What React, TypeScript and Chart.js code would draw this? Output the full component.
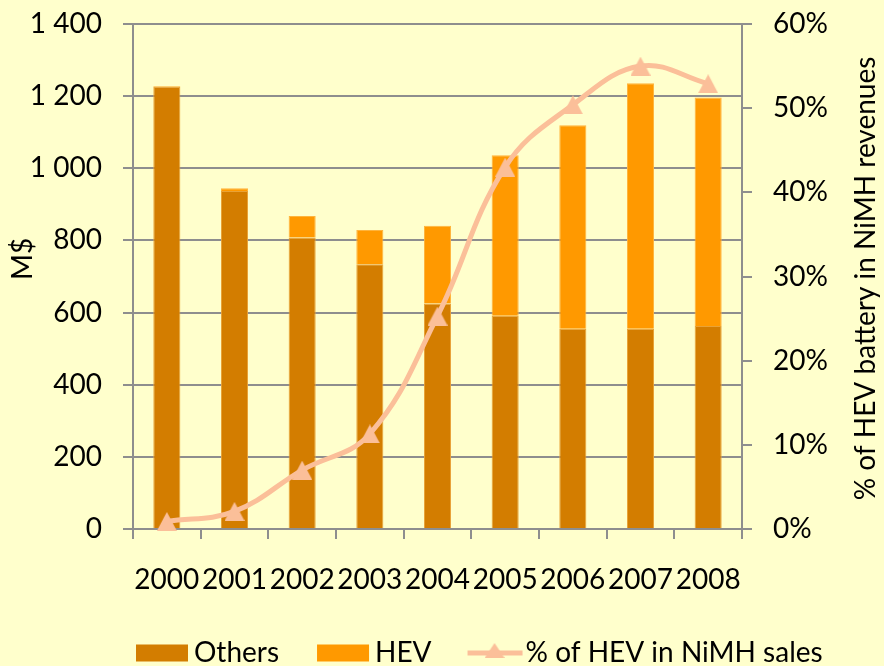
import React, { useEffect, useRef } from 'react';
import { Chart, registerables } from 'chart.js';

Chart.register(...registerables);

const years = ['2000', '2001', '2002', '2003', '2004', '2005', '2006', '2007', '2008'];
const othersValues = [1226, 937, 808, 734, 625, 591, 555, 555, 563];
const hevValues = [2, 8, 60, 95, 216, 445, 564, 681, 633];
const hevSharePct = [0.9, 2.1, 7.0, 11.3, 25.3, 43.0, 50.4, 55.0, 52.9];
const leftTitle = 'M$';
const rightTitle = '% of HEV battery in NiMH revenues';

const FONT = 'Lato, "Noto Sans", "DejaVu Sans", sans-serif';
const FONT_SIZE = 28;
const BG = '#FFFFCC';
const OTHERS_COLOR = '#D37D00';
const HEV_COLOR = '#FF9900';
const LINE_COLOR = '#FBBF99';
const GRID_COLOR = '#8E8E8E';

function fmtThousands(v: number): string {
  if (v >= 1000) {
    const th = Math.floor(v / 1000);
    const rest = String(v % 1000).padStart(3, '0');
    return th + ' ' + rest;
  }
  return String(v);
}

function makeTriangle(w: number, h: number, color: string): HTMLCanvasElement {
  const c = document.createElement('canvas');
  c.width = w;
  c.height = h;
  const g = c.getContext('2d')!;
  g.fillStyle = color;
  g.beginPath();
  g.moveTo(w / 2, 0);
  g.lineTo(w, h);
  g.lineTo(0, h);
  g.closePath();
  g.fill();
  return c;
}

const bgPlugin = {
  id: 'bgFill',
  beforeDraw(chart: any) {
    const { ctx, width, height } = chart;
    ctx.save();
    ctx.fillStyle = BG;
    ctx.fillRect(0, 0, width, height);
    ctx.restore();
  },
};

const titlesPlugin = {
  id: 'axisTitles',
  afterDraw(chart: any) {
    const ctx = chart.ctx;
    const area = chart.chartArea;
    ctx.save();
    ctx.font = `${FONT_SIZE}px ${FONT}`;
    ctx.fillStyle = '#000';
    ctx.textAlign = 'center';
    ctx.textBaseline = 'middle';
    ctx.save();
    ctx.translate(23, area.top + (area.bottom - area.top) * 0.465);
    ctx.rotate(-Math.PI / 2);
    ctx.fillText(leftTitle, 0, 0);
    ctx.restore();
    ctx.save();
    ctx.translate(866, (area.top + area.bottom) / 2 + 2);
    ctx.rotate(-Math.PI / 2);
    ctx.fillText(rightTitle, 0, 0);
    ctx.restore();
    ctx.restore();
  },
};

const legendPlugin = {
  id: 'customLegend',
  afterDraw(chart: any) {
    const ctx = chart.ctx;
    const ds = chart.data.datasets;
    ctx.save();
    ctx.font = `${FONT_SIZE}px ${FONT}`;
    ctx.textBaseline = 'middle';
    ctx.textAlign = 'left';
    let x = 136;
    const y = 653;
    ds.forEach((d: any) => {
      if (d.type === 'line') {
        ctx.strokeStyle = d.borderColor;
        ctx.lineWidth = 5;
        ctx.beginPath();
        ctx.moveTo(x - 2, y);
        ctx.lineTo(x + 53, y);
        ctx.stroke();
        const img = d.pointStyle as HTMLCanvasElement;
        const cx = x + 25;
        ctx.drawImage(img, cx - img.width / 2, y + 9 - img.height, img.width, img.height - 4);
        ctx.fillStyle = '#000';
        ctx.fillText(d.label, x + 56, y);
        x += 56 + ctx.measureText(d.label).width + 38;
      } else {
        ctx.fillStyle = d.backgroundColor;
        ctx.fillRect(x, y - 8.5, 52, 17);
        ctx.fillStyle = '#000';
        ctx.fillText(d.label, x + 58, y);
        x += 58 + ctx.measureText(d.label).width + 38;
      }
    });
    ctx.restore();
  },
};

export default function App() {
  const canvasRef = useRef<HTMLCanvasElement | null>(null);

  useEffect(() => {
    const canvas = canvasRef.current;
    if (!canvas) return;
    const tickFont = { family: FONT, size: FONT_SIZE };
    const tri = makeTriangle(20, 19, LINE_COLOR);
    const chart = new Chart(canvas, {
      type: 'bar',
      data: {
        labels: years,
        datasets: [
          {
            type: 'bar',
            label: 'Others',
            data: othersValues,
            backgroundColor: OTHERS_COLOR,
            borderColor: '#E9A236',
            borderWidth: 1,
            yAxisID: 'y',
            order: 1,
            barPercentage: 0.4,
            categoryPercentage: 1,
          },
          {
            type: 'bar',
            label: 'HEV',
            data: hevValues,
            backgroundColor: HEV_COLOR,
            borderColor: '#FFB43C',
            borderWidth: 1,
            yAxisID: 'y',
            order: 1,
            barPercentage: 0.4,
            categoryPercentage: 1,
          },
          {
            type: 'line',
            label: '% of HEV in NiMH sales',
            data: hevSharePct,
            borderColor: LINE_COLOR,
            backgroundColor: LINE_COLOR,
            pointBackgroundColor: LINE_COLOR,
            pointBorderColor: LINE_COLOR,
            borderWidth: 5,
            pointStyle: tri,
            pointRadius: 10,
            pointBorderWidth: 0,
            tension: 0.4,
            yAxisID: 'y1',
            order: 0,
            clip: false,
          } as any,
        ],
      },
      options: {
        responsive: false,
        animation: false,
        events: [],
        layout: { padding: { top: 24, left: 0, right: 0, bottom: 0 } },
        plugins: {
          legend: { display: false },
          tooltip: { enabled: false },
          title: { display: false },
        },
        scales: {
          x: {
            stacked: true,
            offset: true,
            grid: {
              offset: true,
              drawOnChartArea: false,
              drawTicks: true,
              tickLength: 10,
              color: GRID_COLOR,
              lineWidth: 2,
            },
            border: { color: GRID_COLOR, width: 2 },
            ticks: { font: tickFont, color: '#000', padding: 24, maxRotation: 0, autoSkip: false },
            afterFit: (s: any) => {
              s.height = 137;
              s.paddingLeft = 0;
              s.paddingRight = 0;
            },
          },
          y: {
            stacked: true,
            position: 'left',
            min: 0,
            max: 1400,
            ticks: {
              stepSize: 200,
              font: tickFont,
              color: '#000',
              padding: 21,
              callback: (v: any) => fmtThousands(Number(v)),
            },
            grid: { color: GRID_COLOR, lineWidth: 2, tickLength: 10 },
            border: { color: GRID_COLOR, width: 2 },
            afterFit: (s: any) => {
              s.width = 133;
              s.paddingTop = 0;
              s.paddingBottom = 0;
            },
          },
          y1: {
            position: 'right',
            min: 0,
            max: 60,
            ticks: {
              stepSize: 10,
              font: tickFont,
              color: '#000',
              padding: 21,
              callback: (v: any) => Math.round(Number(v)) + '%',
            },
            grid: { drawOnChartArea: false, color: GRID_COLOR, lineWidth: 2, tickLength: 10 },
            border: { color: GRID_COLOR, width: 2 },
            afterFit: (s: any) => {
              s.width = 142;
              s.paddingTop = 0;
              s.paddingBottom = 0;
            },
          },
        },
      },
      plugins: [bgPlugin, titlesPlugin, legendPlugin],
    });
    return () => {
      chart.destroy();
    };
  }, []);

  return (
    <div style={{ position: 'fixed', left: 0, top: 0, width: 884, height: 666, background: BG }}>
      <canvas ref={canvasRef} width={884} height={666} style={{ display: 'block' }} />
    </div>
  );
}
